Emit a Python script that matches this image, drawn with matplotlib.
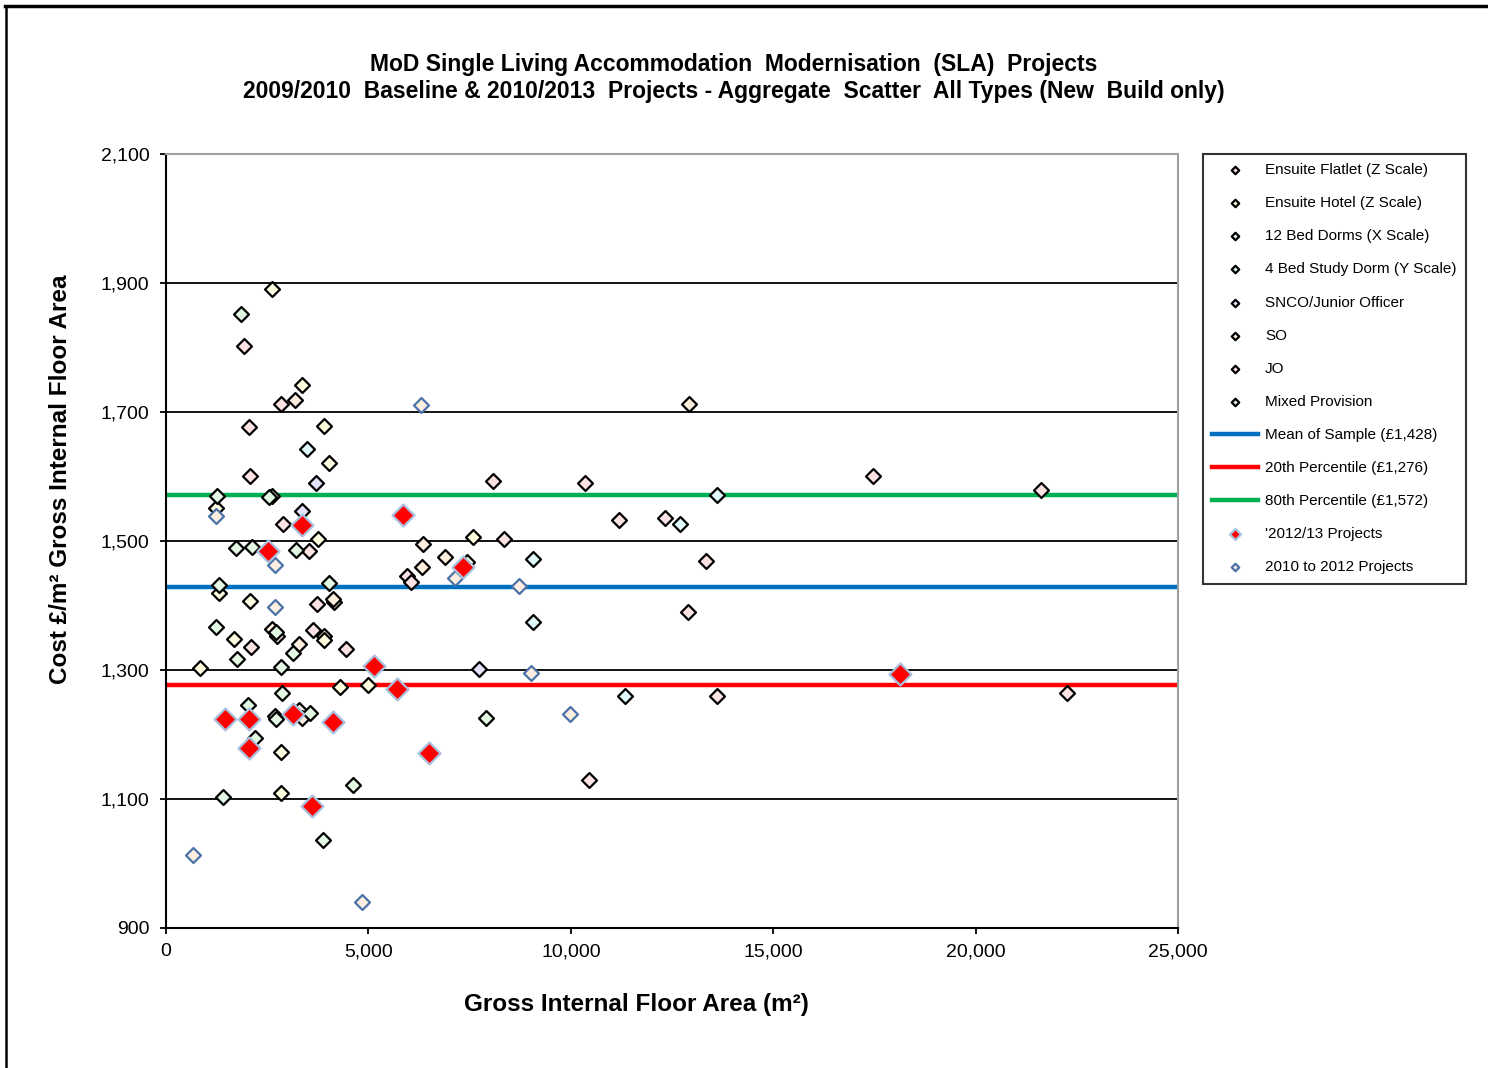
"""MoD SLA 項目散點圖重現（Excel 風格）。

    python plot.py  ->  out.png
"""
import matplotlib
matplotlib.use("Agg")
import matplotlib.pyplot as plt
from matplotlib.lines import Line2D
from matplotlib.ticker import FuncFormatter, MultipleLocator

plt.rcParams["font.family"] = ["Liberation Sans", "DejaVu Sans"]

# ── 資料（從圖上估讀：GIFA m², £/m²）──
flatlet_x = [1934, 2834, 2058, 2075, 2898, 3533, 3738, 2100, 2750, 3639, 4447, 8078,
             10351, 5946, 6045, 8357, 10450, 17458, 11198, 12327, 13340, 21608]
flatlet_y = [1802, 1713, 1676, 1601, 1527, 1485, 1402, 1335, 1353, 1362, 1332, 1593,
             1590, 1446, 1436, 1503, 1129, 1601, 1533, 1536, 1469, 1579]
hotel_x = [2611, 3367, 3903, 4027, 1235, 3762, 1317, 2075, 4150, 1680, 3911, 3911,
           840, 4298, 4983, 2841, 2841, 7592, 7428]
hotel_y = [1890, 1742, 1679, 1621, 1551, 1503, 1420, 1407, 1406, 1348, 1353, 1347,
           1303, 1274, 1277, 1173, 1110, 1506, 1468]
dorm12_x = [1853, 1252, 2611, 2537, 1729, 2132, 3211, 1317, 4027, 1228, 1747, 3130,
            2841, 2858, 2018, 2693]
dorm12_y = [1852, 1570, 1570, 1568, 1489, 1491, 1486, 1432, 1435, 1366, 1317, 1327,
            1304, 1264, 1246, 1228]
dorm4_x = [3476, 9074, 9074, 13604, 12698, 11339]
dorm4_y = [1643, 1472, 1374, 1572, 1527, 1259]
snco_x = [3698, 3352, 7740]
snco_y = [1590, 1547, 1301]
so_x = [3187, 4118, 3293, 3293, 3352, 6341, 6892, 6317, 12927, 2619]
so_y = [1719, 1410, 1340, 1238, 1225, 1495, 1475, 1459, 1712, 1364]
jo_x = [12888, 13604, 22266]
jo_y = [1390, 1259, 1265]
mixed_x = [2717, 3557, 2199, 4627, 1416, 3871, 7898, 2705]
mixed_y = [1224, 1234, 1194, 1122, 1103, 1036, 1225, 1359]

p1213_x = [3352, 2527, 5862, 7345, 5138, 5699, 1458, 2058, 3130, 4133, 2058, 6505, 3599, 18133]
p1213_y = [1525, 1484, 1541, 1459, 1306, 1270, 1224, 1224, 1232, 1220, 1179, 1171, 1089, 1294]
p1012_x = [1235, 2693, 2693, 6300, 7139, 8720, 9010, 9980, 4835, 674]
p1012_y = [1539, 1463, 1398, 1711, 1443, 1430, 1295, 1231, 940, 1013]

mean_cost = 1428
p20_cost = 1276
p80_cost = 1572

y_ticks = [900, 1100, 1300, 1500, 1700, 1900, 2100]

categories = [
    ("Ensuite Flatlet (Z Scale)", flatlet_x, flatlet_y, "#fce2e2"),
    ("Ensuite Hotel (Z Scale)", hotel_x, hotel_y, "#fffde0"),
    ("12 Bed Dorms (X Scale)", dorm12_x, dorm12_y, "#e2f8e2"),
    ("4 Bed Study Dorm (Y Scale)", dorm4_x, dorm4_y, "#e0fbfb"),
    ("SNCO/Junior Officer", snco_x, snco_y, "#e2e2fa"),
    ("SO", so_x, so_y, "#fdeedd"),
    ("JO", jo_x, jo_y, "#fce2e2"),
    ("Mixed Provision", mixed_x, mixed_y, "#e2f8e2"),
]

fig = plt.figure(figsize=(14.88, 10.68), dpi=100)
ax = fig.add_axes([0.1116, 0.1311, 0.6801, 0.7247])

for label, xs, ys, fc in categories:
    ax.scatter(xs, ys, marker="D", s=58, facecolor=fc, edgecolor="black",
               linewidth=1.6, zorder=3, label=label)

ax.axhline(mean_cost, color="#0070c0", lw=3.2, zorder=2, label="Mean of Sample (£1,428)")
ax.axhline(p20_cost, color="#ff0000", lw=3.2, zorder=2, label="20th Percentile (£1,276)")
ax.axhline(p80_cost, color="#00b050", lw=3.2, zorder=2, label="80th Percentile (£1,572)")

ax.scatter(p1213_x, p1213_y, marker="D", s=125, facecolor="#ff0000", edgecolor="#a9c0de",
           linewidth=1.6, zorder=4, label="'2012/13 Projects")
ax.scatter(p1012_x, p1012_y, marker="D", s=58, facecolor="#fdeee0", edgecolor="#4a72a8",
           linewidth=1.6, zorder=3, label="2010 to 2012 Projects")

ax.set_xlim(0, 25000)
ax.set_ylim(900, 2100)
ax.xaxis.set_major_locator(MultipleLocator(5000))
ax.set_yticks(y_ticks)
fmt = FuncFormatter(lambda v, _: f"{v:,.0f}")
ax.xaxis.set_major_formatter(fmt)
ax.yaxis.set_major_formatter(fmt)
ax.tick_params(axis="both", direction="out", length=4, width=1.3, labelsize=14,
               colors="black")
ax.tick_params(axis="y", pad=8)
ax.tick_params(axis="x", pad=7)
ax.yaxis.grid(True, color="black", lw=1.3, zorder=0)
ax.set_axisbelow(True)
for side in ("left", "bottom"):
    ax.spines[side].set_color("black")
    ax.spines[side].set_linewidth(1.5)
for side in ("top", "right"):
    ax.spines[side].set_color("#a0a0a0")
    ax.spines[side].set_linewidth(1.5)

ax.set_xlabel("Gross Internal Floor Area (m²)", fontsize=17.5, fontweight="bold")
ax.set_ylabel("Cost £/m² Gross Internal Floor Area", fontsize=17.5, fontweight="bold")
ax.xaxis.set_label_coords(0.465, -0.0995)
ax.yaxis.set_label_coords(-0.1047, 0.58)
ax.xaxis.label.set_va("center")
ax.yaxis.label.set_va("center")

fig.text(0.4933, 0.94, "MoD Single Living Accommodation  Modernisation  (SLA)  Projects",
         ha="center", va="center", fontsize=16.5, fontweight="bold")
fig.text(0.4933, 0.9145,
         "2009/2010  Baseline & 2010/2013  Projects - Aggregate  Scatter  All Types (New  Build only)",
         ha="center", va="center", fontsize=16.5, fontweight="bold")

# 圖例：小標記
handles, labels = ax.get_legend_handles_labels()
leg = ax.legend(handles, labels, loc="upper left", bbox_to_anchor=(1.0247, 1.0),
                borderaxespad=0, fontsize=11, frameon=True, fancybox=False,
                edgecolor="black", markerscale=0.5, handlelength=3.0,
                handletextpad=0.45, labelspacing=1.25, borderpad=0.6)
leg.get_frame().set_linewidth(1.5)

# 外框
fig.add_artist(Line2D([5 / 1488, 1], [1 - 6 / 1068, 1 - 6 / 1068], color="black", lw=2.5,
                      transform=fig.transFigure))
fig.add_artist(Line2D([6 / 1488, 6 / 1488], [0, 1 - 6 / 1068], color="black", lw=1.8,
                      transform=fig.transFigure))

fig.savefig("out.png", dpi=100)
